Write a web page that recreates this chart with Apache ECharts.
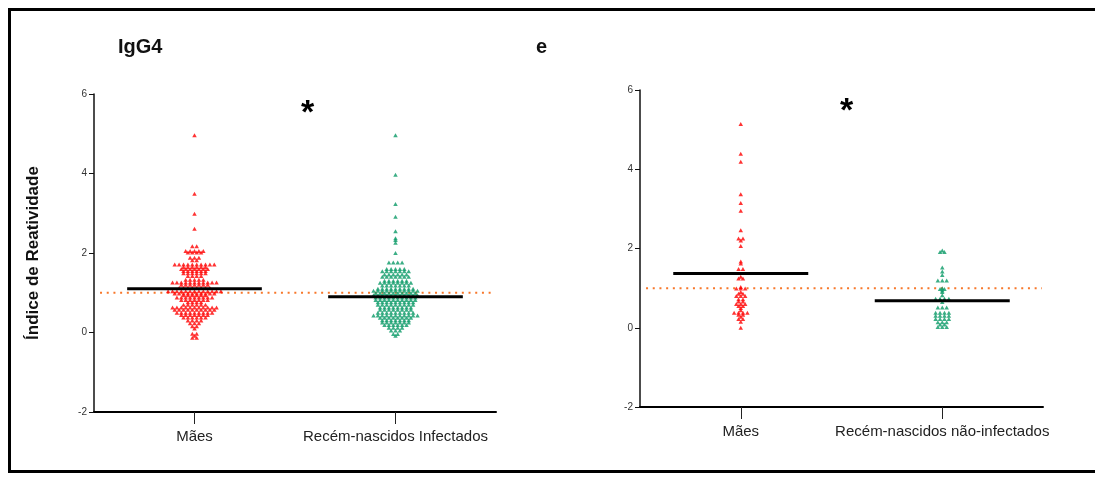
<!DOCTYPE html>
<html><head><meta charset="utf-8">
<script src="https://cdn.jsdelivr.net/npm/echarts@6/dist/echarts.min.js"></script>
<style>html,body{margin:0;padding:0;background:#fff}#c{width:1095px;height:478px}</style>
</head><body><div id="c"></div>
<script>
const categoriesA = ['Mães', 'Recém-nascidos Infectados'];
const categoriesB = ['Mães', 'Recém-nascidos não-infectados'];

const mothersA = [4.96, 3.49, 2.99, 2.61, 2.17, 2.17,
  2.05, 2.05, 2.05, 2.05, 2.05, 2.01, 2.01, 2.01, 2.01, 1.88, 1.88, 1.88, 1.82, 1.82,
  1.71, 1.71, 1.71, 1.71, 1.71, 1.71, 1.71, 1.71, 1.71, 1.71,
  1.65, 1.65, 1.65, 1.65, 1.65, 1.65, 1.6, 1.6, 1.6, 1.6, 1.6, 1.6, 1.6,
  1.55, 1.55, 1.55, 1.55, 1.55, 1.55, 1.49, 1.49, 1.49, 1.49, 1.49, 1.49,
  1.42, 1.42, 1.42, 1.42, 1.33, 1.33, 1.33, 1.33, 1.33,
  1.26, 1.26, 1.26, 1.26, 1.26, 1.26, 1.26, 1.26, 1.26, 1.26, 1.26,
  1.2, 1.2, 1.2, 1.2, 1.2, 1.2, 1.2, 1.12, 1.12, 1.12, 1.12, 1.12, 1.12, 1.12, 1.12,
  1.04, 1.04, 1.04, 1.04, 1.04, 1.04, 1.04, 1.04, 1.04, 1.04, 1.04, 1.04, 1.04,
  0.98, 0.98, 0.98, 0.98, 0.98, 0.98, 0.98, 0.98, 0.98, 0.98, 0.94, 0.94, 0.94, 0.94, 0.94, 0.94,
  0.88, 0.88, 0.88, 0.88, 0.88, 0.88, 0.88, 0.88, 0.88, 0.82, 0.82, 0.82, 0.82, 0.82, 0.82, 0.82,
  0.76, 0.76, 0.76, 0.76, 0.7, 0.7, 0.7, 0.7, 0.7, 0.7,
  0.63, 0.63, 0.63, 0.63, 0.63, 0.63, 0.63, 0.63, 0.63, 0.63, 0.63,
  0.57, 0.57, 0.57, 0.57, 0.57, 0.57, 0.57, 0.57, 0.57, 0.57,
  0.5, 0.5, 0.5, 0.5, 0.5, 0.5, 0.5, 0.5, 0.5, 0.44, 0.44, 0.44, 0.44, 0.44, 0.44, 0.44,
  0.38, 0.38, 0.38, 0.38, 0.38, 0.38, 0.3, 0.3, 0.3, 0.3, 0.23, 0.23, 0.23, 0.16, 0.16, 0.1,
  -0.03, -0.03, -0.08, -0.13, -0.13];

const newbornsA = [4.96, 3.97, 3.23, 2.91, 2.55, 2.37, 2.33, 2.26, 2.0,
  1.76, 1.76, 1.76, 1.76, 1.6, 1.6, 1.6, 1.6, 1.6, 1.54, 1.54, 1.54, 1.54, 1.54, 1.54, 1.54,
  1.46, 1.46, 1.46, 1.46, 1.46, 1.46, 1.4, 1.4, 1.4, 1.4, 1.4, 1.4, 1.4,
  1.3, 1.3, 1.3, 1.3, 1.3, 1.3, 1.25, 1.25, 1.25, 1.25, 1.25, 1.25, 1.25, 1.25,
  1.18, 1.18, 1.18, 1.18, 1.18, 1.18, 1.18, 1.1, 1.1, 1.1, 1.1, 1.1, 1.1, 1.1, 1.1, 1.1,
  1.05, 1.05, 1.05, 1.05, 1.05, 1.05, 1.05, 1.05, 1.05, 1.05, 1.05,
  0.99, 0.99, 0.99, 0.99, 0.99, 0.99, 0.99, 0.99, 0.99, 0.99,
  0.94, 0.94, 0.94, 0.94, 0.94, 0.94, 0.94, 0.94, 0.94, 0.94, 0.94,
  0.88, 0.88, 0.88, 0.88, 0.88, 0.88, 0.88, 0.88, 0.88, 0.88,
  0.82, 0.82, 0.82, 0.82, 0.82, 0.82, 0.82, 0.82, 0.82, 0.82,
  0.76, 0.76, 0.76, 0.76, 0.76, 0.76, 0.76, 0.76, 0.76, 0.7, 0.7, 0.7, 0.7, 0.7, 0.7, 0.7, 0.7, 0.7,
  0.63, 0.63, 0.63, 0.63, 0.63, 0.63, 0.63, 0.63, 0.57, 0.57, 0.57, 0.57, 0.57, 0.57, 0.57, 0.57,
  0.5, 0.5, 0.5, 0.5, 0.5, 0.5, 0.5, 0.5, 0.5,
  0.43, 0.43, 0.43, 0.43, 0.43, 0.43, 0.43, 0.43, 0.43, 0.43, 0.43,
  0.37, 0.37, 0.37, 0.37, 0.37, 0.37, 0.37, 0.37, 0.31, 0.31, 0.31, 0.31, 0.31, 0.31, 0.31,
  0.25, 0.25, 0.25, 0.25, 0.25, 0.25, 0.25, 0.19, 0.19, 0.19, 0.19, 0.19, 0.19,
  0.12, 0.12, 0.12, 0.12, 0.05, 0.05, 0.05, -0.04, -0.04, -0.08];

const mothersB = [5.14, 4.39, 4.19, 3.37, 3.15, 2.95, 2.46, 2.25, 2.25, 2.2, 2.06,
  1.67, 1.62, 1.48, 1.48, 1.29, 1.24, 1.24, 1.03, 0.99, 0.99, 0.99, 0.9, 0.86, 0.86,
  0.8, 0.8, 0.8, 0.72, 0.72, 0.66, 0.66, 0.6, 0.6, 0.6, 0.55, 0.55, 0.5, 0.44,
  0.38, 0.38, 0.38, 0.38, 0.33, 0.33, 0.28, 0.22, 0.22, 0.15, 0.0];

const newbornsB = [1.95, 1.91, 1.91, 1.52, 1.42, 1.33, 1.19, 1.19, 1.19, 1.0, 0.98, 0.98,
  0.94, 0.9, 0.82, 0.73, 0.73, 0.73, 0.73, 0.7, 0.7, 0.65, 0.51, 0.51, 0.51,
  0.38, 0.38, 0.38, 0.38, 0.3, 0.3, 0.3, 0.3, 0.22, 0.22, 0.22, 0.22,
  0.14, 0.14, 0.14, 0.08, 0.08, 0.02, 0.02, 0.02];

const meansA = [1.1, 0.9];
const meansB = [1.37, 0.68];
const cutoff = 1;
const yMin = -2, yMax = 6, yStep = 2;

const RED = '#ff0000', GREEN = '#0a9a66', ORANGE = '#f7772a';
const PX_PER_UNIT = 201, SPACING = 4.4, HALF_MEAN = 0.335;

function swarm(values, center) {
  const groups = new Map();
  values.forEach(v => groups.set(v, (groups.get(v) || 0) + 1));
  const out = [];
  groups.forEach((n, v) => {
    for (let i = 0; i < n; i++) out.push([center + (i - (n - 1) / 2) * SPACING / PX_PER_UNIT, v]);
  });
  return out;
}

const grids = [
  { left: 94, right: 599, top: 94, bottom: 66 },
  { left: 640, right: 52, top: 90, bottom: 71 }
];

function catAxis(gi, cats) {
  return {
    type: 'category', gridIndex: gi, data: cats, boundaryGap: true, position: 'bottom',
    axisLine: { onZero: false, lineStyle: { color: '#000', width: 2 } },
    axisTick: { show: true, alignWithLabel: true, length: 12, lineStyle: { color: '#222', width: 1 } },
    axisLabel: { interval: 0, fontSize: 15, color: '#222', margin: 17, fontFamily: 'Liberation Sans, Arial' },
    splitLine: { show: false }
  };
}
function valX(gi) {
  return { type: 'value', gridIndex: gi, min: -0.5, max: 1.5, show: false, axisLine: { onZero: false } };
}
function yAx(gi, name) {
  return {
    type: 'value', gridIndex: gi, min: yMin, max: yMax, interval: yStep, position: 'left',
    name: name || '', nameLocation: 'middle', nameGap: 52,
    nameTextStyle: { fontSize: 17, fontWeight: 'bold', color: '#111', fontFamily: 'Liberation Sans, Arial' },
    axisLine: { show: true, onZero: false, lineStyle: { color: '#111', width: 1.5 } },
    axisTick: { show: true, length: 5, lineStyle: { color: '#111' } },
    axisLabel: { fontSize: 10, color: '#333', margin: 7, fontFamily: 'Liberation Sans, Arial' },
    splitLine: { show: false }
  };
}

function panelSeries(xi, yi, mothers, newborns, means) {
  const lineBase = { type: 'line', xAxisIndex: xi, yAxisIndex: yi, symbol: 'none', silent: true, animation: false };
  return [
    Object.assign({}, lineBase, { data: [[-0.47, cutoff], [1.495, cutoff]], z: 1,
      lineStyle: { color: ORANGE, width: 2, type: [2, 4.7] } }),
    { type: 'scatter', xAxisIndex: xi, yAxisIndex: yi, data: swarm(mothers, 0), symbol: 'triangle',
      symbolSize: [4.5, 4], itemStyle: { color: RED }, z: 2, animation: false },
    { type: 'scatter', xAxisIndex: xi, yAxisIndex: yi, data: swarm(newborns, 1), symbol: 'triangle',
      symbolSize: [4.5, 4], itemStyle: { color: GREEN }, z: 2, animation: false },
    Object.assign({}, lineBase, { data: [[-HALF_MEAN, means[0]], [HALF_MEAN, means[0]]], z: 3,
      lineStyle: { color: '#000', width: 3 } }),
    Object.assign({}, lineBase, { data: [[1 - HALF_MEAN, means[1]], [1 + HALF_MEAN, means[1]]], z: 3,
      lineStyle: { color: '#000', width: 3 } })
  ];
}

const chart = echarts.init(document.getElementById('c'), null, { renderer: 'canvas' });
chart.setOption({
  backgroundColor: '#fff',
  animation: false,
  grid: grids,
  xAxis: [catAxis(0, categoriesA), valX(0), catAxis(1, categoriesB), valX(1)],
  yAxis: [yAx(0, 'Índice de Reatividade'), yAx(1)],
  series: [].concat(panelSeries(1, 0, mothersA, newbornsA, meansA), panelSeries(3, 1, mothersB, newbornsB, meansB)),
  graphic: [
    { type: 'rect', shape: { x: 9.5, y: 9.5, width: 1100, height: 462 }, style: { fill: 'none', stroke: '#000', lineWidth: 3 }, z: 100 },
    { type: 'text', left: 118, top: 37, style: { text: 'IgG4', font: 'bold 20px "Liberation Sans", Arial', fill: '#111' } },
    { type: 'text', left: 536, top: 37, style: { text: 'e', font: 'bold 20px "Liberation Sans", Arial', fill: '#111' } },
    { type: 'text', left: 301, top: 97, style: { text: '*', font: 'bold 34px "Liberation Sans", Arial', fill: '#000' } },
    { type: 'text', left: 840, top: 95, style: { text: '*', font: 'bold 34px "Liberation Sans", Arial', fill: '#000' } }
  ]
});
</script></body></html>
